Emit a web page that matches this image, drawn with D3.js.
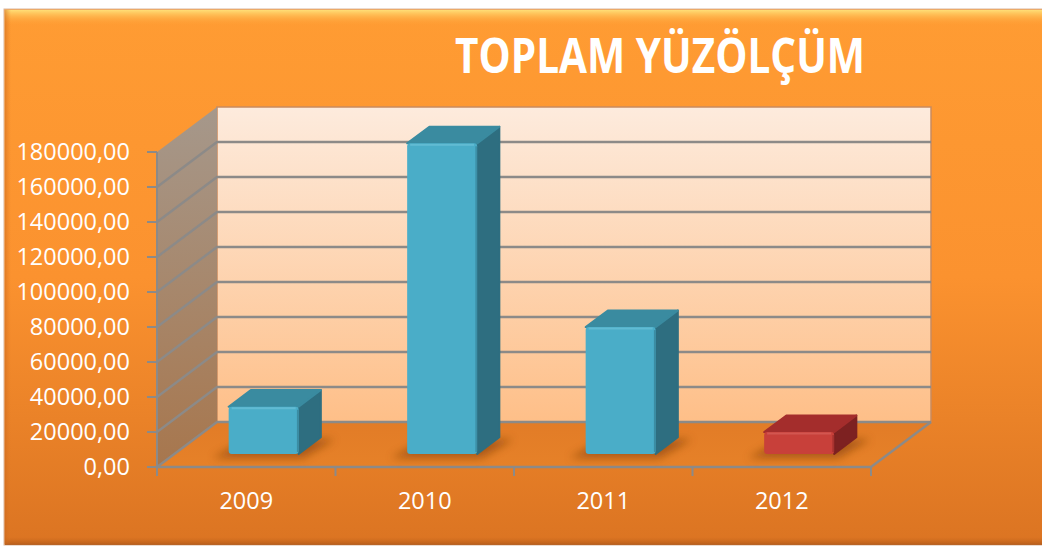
<!DOCTYPE html>
<html><head><meta charset="utf-8">
<script src="https://cdn.jsdelivr.net/npm/d3@7"></script>
<style>html,body{margin:0;padding:0;background:#fff;}svg{display:block;}</style>
</head><body>
<svg id="chart" width="1042" height="547"></svg>
<script>
// ---- data ----
const title = "TOPLAM YÜZÖLÇÜM";
const categories = ["2009", "2010", "2011", "2012"];
const values = [27000, 177500, 72500, 12500];
const highlightCategories = ["2012"];
const yTicks = [0, 20000, 40000, 60000, 80000, 100000, 120000, 140000, 160000, 180000];

// ---- layout ----
const svg = d3.select("#chart");
const W = 1042, H = 547;
const plotLeft = 157, plotRight = 871, yBottom = 467, yTop = 152;
const depthDX = 60, depthDY = -45;
const barD0 = 0.29, barD1 = 0.66;

const x = d3.scaleBand().domain(categories).range([plotLeft, plotRight]).paddingInner(0.608).paddingOuter(0.304);
const y = d3.scaleLinear().domain([0, 180000]).range([yBottom, yTop]);
const P = (px, py, d) => [px + d * depthDX, py + d * depthDY];
const fmt = v => d3.format(".2f")(v).replace(".", ",");

const defs = svg.append("defs");
function vgrad(id, stops, horiz) {
  const g = defs.append("linearGradient").attr("id", id).attr("x1", 0).attr("y1", 0).attr("x2", horiz ? 1 : 0).attr("y2", horiz ? 0 : 1);
  stops.forEach(s => g.append("stop").attr("offset", s[0]).attr("stop-color", s[1]).attr("stop-opacity", s[2] == null ? 1 : s[2]));
}
vgrad("bg", [[0, "#FF9C33"], [0.5, "#FB922F"], [1, "#DB7422"]]);
vgrad("bevel", [[0, "#FFE27A", 0.95], [1, "#FF9C33", 0]]);
vgrad("bevelB", [[0, "#C8661C", 0], [1, "#B0591A", 0.9]]);
vgrad("bevelL", [[0, "#C8661C", 0.5], [1, "#E07A25", 0]], true);
vgrad("back", [[0, "#FDEBDD"], [1, "#FEBF88"]]);
vgrad("side", [[0, "#A19890"], [1, "#A4764F"]]);
vgrad("floor", [[0, "#E27C27"], [1, "#E68128"]]);
const blur = defs.append("filter").attr("id", "blur").attr("x", "-50%").attr("y", "-50%").attr("width", "200%").attr("height", "200%");
blur.append("feGaussianBlur").attr("stdDeviation", 4);

// background frame
svg.append("rect").attr("x", 4).attr("y", 9).attr("width", W).attr("height", 536).attr("fill", "url(#bg)")
  .attr("stroke", "#d9b8a0").attr("stroke-width", 1);
svg.append("rect").attr("x", 5).attr("y", 10).attr("width", W).attr("height", 16).attr("fill", "url(#bevel)");
svg.append("rect").attr("x", 5).attr("y", 537).attr("width", W).attr("height", 8).attr("fill", "url(#bevelB)");
svg.append("rect").attr("x", 5).attr("y", 10).attr("width", 6).attr("height", 534).attr("fill", "url(#bevelL)");

// title
svg.append("text").attr("x", 660).attr("y", 73).attr("text-anchor", "middle")
  .attr("font-family", "'Open Sans', sans-serif").attr("font-weight", 700).attr("font-size", 49)
  .attr("fill", "#fff").attr("textLength", 410).attr("lengthAdjust", "spacingAndGlyphs").text(title);

const line = d3.line();
const grid = "#8C8A88";

// back wall
const bw0 = P(plotLeft, y(180000), 1), bw1 = P(plotRight, y(0), 1);
svg.append("rect").attr("x", bw0[0]).attr("y", bw0[1]).attr("width", bw1[0] - bw0[0]).attr("height", bw1[1] - bw0[1])
  .attr("fill", "url(#back)").attr("stroke", "#C98A5E").attr("stroke-width", 1.5);
// side wall
svg.append("path").attr("d", line([P(plotLeft, y(180000), 0), P(plotLeft, y(180000), 1), P(plotLeft, y(0), 1), P(plotLeft, y(0), 0)]) + "Z")
  .attr("fill", "url(#side)").attr("opacity", 0.95);
// floor
svg.append("path").attr("d", line([P(plotLeft, y(0), 0), P(plotRight, y(0), 0), P(plotRight, y(0), 1), P(plotLeft, y(0), 1)]) + "Z")
  .attr("fill", "url(#floor)");

// gridlines (back + side)
yTicks.filter(v => v < 180000).forEach(v => {
  svg.append("path").attr("d", line([P(plotLeft, y(v), 0), P(plotLeft, y(v), 1), P(plotRight, y(v), 1)]))
    .attr("fill", "none").attr("stroke", grid).attr("stroke-width", 2.4);
});
// floor edges
svg.append("path").attr("d", line([P(plotLeft, y(0), 0), P(plotRight, y(0), 0), P(plotRight, y(0), 1)]))
  .attr("fill", "none").attr("stroke", grid).attr("stroke-width", 2.4);
// y axis line
svg.append("path").attr("d", line([[plotLeft, y(180000)], [plotLeft, y(0) + 8]]))
  .attr("fill", "none").attr("stroke", grid).attr("stroke-width", 2);

// y axis ticks + labels
const yAxis = svg.append("g");
yTicks.forEach(v => {
  yAxis.append("line").attr("x1", plotLeft - 10).attr("x2", plotLeft).attr("y1", y(v)).attr("y2", y(v))
    .attr("stroke", grid).attr("stroke-width", 2);
  yAxis.append("text").attr("x", 130).attr("y", y(v)).attr("dy", "0.36em").attr("text-anchor", "end")
    .attr("font-family", "'Open Sans', sans-serif").attr("font-size", 23.5).attr("fill", "#fff").text(fmt(v));
});

// category ticks + labels
const step = x.step();
d3.range(categories.length + 1).forEach(i => {
  const tx = plotLeft + i * step;
  svg.append("line").attr("x1", tx).attr("x2", tx).attr("y1", y(0)).attr("y2", y(0) + 9)
    .attr("stroke", grid).attr("stroke-width", 2);
});
categories.forEach(c => {
  svg.append("text").attr("x", x(c) + x.bandwidth() / 2).attr("y", 501).attr("dy", "0.36em").attr("text-anchor", "middle")
    .attr("font-family", "'Open Sans', sans-serif").attr("font-size", 23.5).attr("fill", "#fff").text(c);
});

// bars
const normal = { front: "#4AADC8", top: "#3A8BA0", side: "#2E6E80", hi: "#6CC2D8" };
const hl = { front: "#C8403A", top: "#A42D2C", side: "#7D2121", hi: "#D8605A" };
categories.forEach((c, i) => {
  const v = values[i];
  const col = highlightCategories.includes(c) ? hl : normal;
  const xl = x(c), xr = x(c) + x.bandwidth();
  const fbl = P(xl, y(0), barD0), fbr = P(xr, y(0), barD0), ftl = P(xl, y(v), barD0), ftr = P(xr, y(v), barD0);
  const bbr = P(xr, y(0), barD1), btl = P(xl, y(v), barD1), btr = P(xr, y(v), barD1);
  const g = svg.append("g");
  // shadow
  g.append("path").attr("d", line([[fbl[0] - 16, fbl[1] + 4], [fbr[0] + 4, fbr[1] + 4], [bbr[0] + 14, bbr[1] + 2], [P(xl, y(0), barD1)[0] - 4, bbr[1] + 2]]) + "Z")
    .attr("fill", "#8A4510").attr("opacity", 0.65).attr("filter", "url(#blur)");
  // side
  g.append("path").attr("d", line([fbr, bbr, btr, ftr]) + "Z").attr("fill", col.side)
    .attr("stroke", col.side).attr("stroke-width", 2).attr("stroke-linejoin", "round");
  // top
  g.append("path").attr("d", line([ftl, ftr, btr, btl]) + "Z").attr("fill", col.top)
    .attr("stroke", col.top).attr("stroke-width", 2).attr("stroke-linejoin", "round");
  // front
  g.append("rect").attr("x", ftl[0]).attr("y", ftl[1]).attr("width", fbr[0] - ftl[0]).attr("height", fbr[1] - ftl[1])
    .attr("rx", 3).attr("fill", col.front);
  g.append("line").attr("x1", ftl[0] + 3).attr("x2", ftr[0] - 3).attr("y1", ftl[1] + 1.5).attr("y2", ftl[1] + 1.5)
    .attr("stroke", col.hi).attr("stroke-width", 2).attr("opacity", 0.7);
  g.append("line").attr("x1", ftr[0] - 1).attr("x2", fbr[0] - 1).attr("y1", ftr[1] + 3).attr("y2", fbr[1] - 2)
    .attr("stroke", col.side).attr("stroke-width", 1.5).attr("opacity", 0.5);
});
</script>
</body></html>
